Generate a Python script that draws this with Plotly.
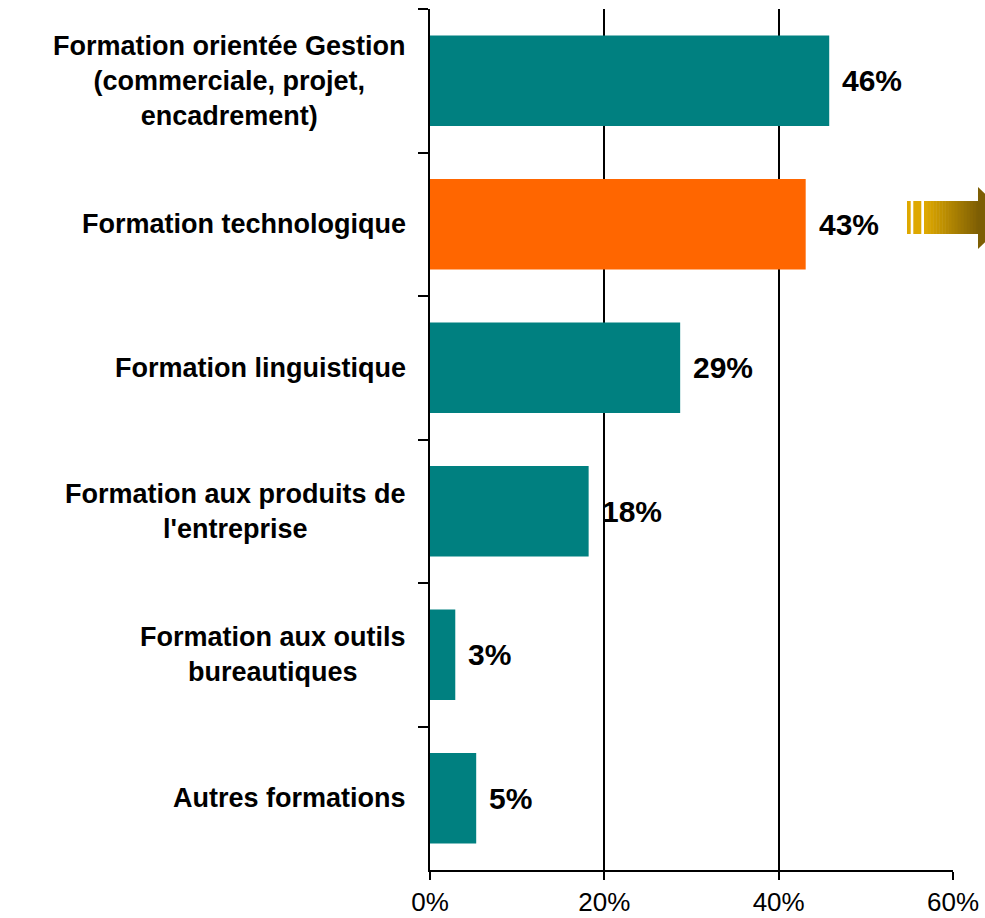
import plotly.graph_objects as go

# ---- data ----
categories = [
    "Formation orientée Gestion<br>(commerciale, projet,<br>encadrement)",
    "Formation technologique",
    "Formation linguistique",
    "Formation aux produits de<br>l'entreprise",
    "Formation aux outils<br>bureautiques",
    "Autres formations",
]
values = [45.8, 43.1, 28.7, 18.2, 2.9, 5.3]
value_labels = ["46%", "43%", "29%", "18%", "3%", "5%"]
x_ticks = [0, 20, 40, 60]
x_tick_labels = ["0%", "20%", "40%", "60%"]
highlight = "Formation technologique"

TEAL = "#008080"
ORANGE = "#FF6600"
bar_colors = [ORANGE if c == highlight else TEAL for c in categories]

fig = go.Figure()
fig.add_trace(go.Bar(
    y=categories, x=values, orientation="h",
    marker=dict(color=bar_colors, line=dict(width=0)),
    width=0.63, hoverinfo="skip", showlegend=False,
))

annotations = []
for c, v, lab in zip(categories, values, value_labels):
    annotations.append(dict(
        x=v, y=c, xref="x", yref="y", text=lab, showarrow=False,
        xanchor="left", yanchor="middle", xshift=11,
        font=dict(family="Liberation Sans, Arial, sans-serif", size=30, color="black", weight="bold"),
    ))
    annotations.append(dict(
        x=0, y=c, xref="paper", yref="y", text=c, showarrow=False,
        xanchor="right", yanchor="middle", xshift=-22, align="center",
        font=dict(family="Liberation Sans, Arial, sans-serif", size=27, color="black", weight="bold"),
    ))

# ---- decorative arrow (pixel -> paper helper) ----
L, R, T, B = 430, 953, 9, 870
def PX(px):
    return (px - L) / (R - L)
def PY(py):
    return (B - py) / (B - T)

shapes = []
stripe_col = "rgb(222,168,0)"
for x0, x1 in [(907, 910.7), (913.3, 921.3)]:
    shapes.append(dict(type="rect", xref="paper", yref="paper",
                       x0=PX(x0), x1=PX(x1), y0=PY(234), y1=PY(201),
                       fillcolor=stripe_col, line=dict(width=0), layer="above"))
n = 18
bx0, bx1 = 924, 979
c0, c1 = (222, 168, 0), (128, 96, 4)
for i in range(n):
    a = bx0 + (bx1 - bx0) * i / n
    b = bx0 + (bx1 - bx0) * (i + 1) / n + 0.5
    t = i / (n - 1)
    col = "rgb(%d,%d,%d)" % tuple(round(c0[k] + (c1[k] - c0[k]) * t) for k in range(3))
    shapes.append(dict(type="rect", xref="paper", yref="paper",
                       x0=PX(a), x1=PX(b), y0=PY(234), y1=PY(201),
                       fillcolor=col, line=dict(width=0), layer="above"))
head = [(978, 187), (1010, 218), (978, 249)]
shapes.append(dict(type="path", xref="paper", yref="paper",
                   path="M%.4f,%.4f L%.4f,%.4f L%.4f,%.4f Z" % tuple(v for p in head for v in (PX(p[0]), PY(p[1]))),
                   fillcolor="rgb(125,94,4)", line=dict(width=0), layer="above"))

fig.update_layout(
    width=985, height=918,
    margin=dict(l=L, r=985 - R, t=T, b=918 - B, autoexpand=False),
    plot_bgcolor="white", paper_bgcolor="white",
    annotations=annotations,
    shapes=shapes,
    xaxis=dict(
        range=[0, 60], tickvals=x_ticks, ticktext=x_tick_labels,
        showgrid=True, gridcolor="black", gridwidth=2,
        showline=True, linecolor="black", linewidth=2,
        ticks="outside", ticklen=8, tickwidth=2, tickcolor="black",
        zeroline=False, fixedrange=True, automargin=False,
        tickfont=dict(family="Liberation Sans, Arial, sans-serif", size=26, color="black"),
    ),
    yaxis=dict(
        type="category", categoryorder="array", categoryarray=categories,
        autorange="reversed",
        showticklabels=False, tickson="boundaries",
        ticks="outside", ticklen=10, tickwidth=2, tickcolor="black",
        showline=True, linecolor="black", linewidth=2,
        showgrid=False, zeroline=False, fixedrange=True, automargin=False,
    ),
)

fig.write_html(
    "out.html",
    config={"displayModeBar": False},
    post_script="document.body.style.margin='0';document.body.style.overflow='hidden';",
)
